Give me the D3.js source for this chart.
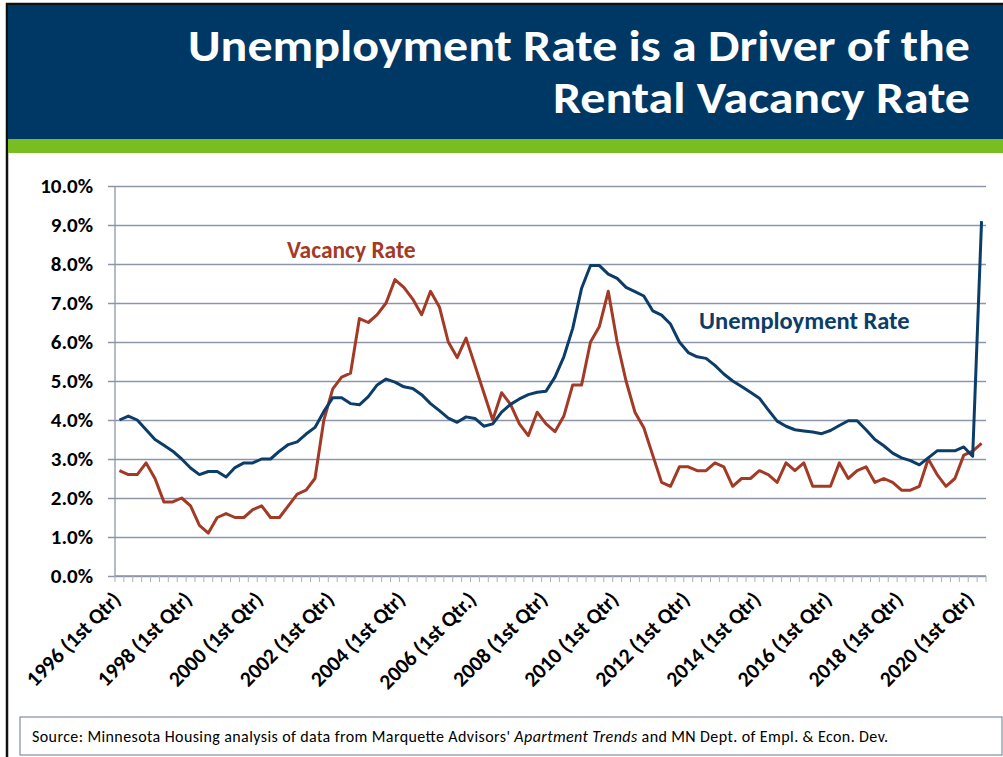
<!DOCTYPE html>
<html>
<head>
<meta charset="utf-8">
<script src="https://cdn.jsdelivr.net/npm/d3@7"></script>
<style>
  body { margin: 0; background: #fff; }
  text { font-family: Carlito, "Open Sans", sans-serif; }
</style>
</head>
<body>
<div id="chart"></div>
<script>
const width = 1003;
const height = 757;

// quarterly categories, 1996 Q1 .. 2020 Q2
const years = d3.range(1996, 2021);
const quarters = [];
years.forEach(y => [1, 2, 3, 4].forEach(q => quarters.push(y + " Q" + q)));
quarters.length = 98;

// tick labels shown every 8 quarters
const tickLabels = ["1996 (1st Qtr)", "1998 (1st Qtr)", "2000 (1st Qtr)", "2002 (1st Qtr)",
    "2004 (1st Qtr)", "2006 (1st Qtr.)", "2008 (1st Qtr)", "2010 (1st Qtr)", "2012 (1st Qtr)",
    "2014 (1st Qtr)", "2016 (1st Qtr)", "2018 (1st Qtr)", "2020 (1st Qtr)"];

// percent values
const unemployment = [4.0, 4.1, 4.0, 3.75, 3.5, 3.35, 3.2, 3.0, 2.77, 2.6,
    2.68, 2.68, 2.54, 2.78, 2.9, 2.9, 3.0, 3.0, 3.2, 3.37,
    3.44, 3.64, 3.81, 4.22, 4.57, 4.57, 4.42, 4.39, 4.6, 4.9,
    5.05, 4.97, 4.85, 4.81, 4.65, 4.42, 4.24, 4.05, 3.94, 4.08,
    4.04, 3.84, 3.9, 4.2, 4.4, 4.54, 4.65, 4.71, 4.74, 5.1,
    5.62, 6.35, 7.38, 7.96, 7.96, 7.74, 7.63, 7.4, 7.29, 7.18,
    6.8, 6.69, 6.46, 6.0, 5.73, 5.62, 5.58, 5.4, 5.18, 5.0,
    4.86, 4.71, 4.56, 4.26, 3.97, 3.84, 3.75, 3.72, 3.69, 3.65,
    3.73, 3.86, 3.98, 3.98, 3.75, 3.5, 3.34, 3.15, 3.03, 2.96,
    2.85, 3.03, 3.21, 3.21, 3.21, 3.31, 3.07, 9.1];

const vacancy = [2.7, 2.6, 2.6, 2.9, 2.5, 1.9, 1.9, 2.0, 1.8, 1.3,
    1.1, 1.5, 1.6, 1.5, 1.5, 1.7, 1.8, 1.5, 1.5, 1.8,
    2.1, 2.2, 2.5, 4.0, 4.8, 5.1, 5.2, 6.6, 6.5, 6.7,
    7.0, 7.6, 7.4, 7.1, 6.7, 7.3, 6.9, 6.0, 5.6, 6.1,
    5.4, 4.7, 4.0, 4.7, 4.4, 3.9, 3.6, 4.2, 3.9, 3.7,
    4.1, 4.9, 4.9, 6.0, 6.4, 7.3, 6.0, 5.0, 4.2, 3.8,
    3.1, 2.4, 2.3, 2.8, 2.8, 2.7, 2.7, 2.9, 2.8, 2.3,
    2.5, 2.5, 2.7, 2.6, 2.4, 2.9, 2.7, 2.9, 2.3, 2.3,
    2.3, 2.9, 2.5, 2.7, 2.8, 2.4, 2.5, 2.4, 2.2, 2.2,
    2.3, 3.0, 2.6, 2.3, 2.5, 3.1, 3.2, 3.4];

const navy = "#003865";
const blueLine = "#0c3d69";
const redLine = "#a33a26";
const gridColor = "#8c96a8";

const svg = d3.select("#chart")
    .append("svg")
    .attr("width", width)
    .attr("height", height);

// slide frame + header
svg.append("rect").attr("x", 7).attr("y", 4).attr("width", 1000).attr("height", 760)
    .attr("fill", "none").attr("stroke", "#111").attr("stroke-width", 2.5);
svg.append("rect").attr("x", 8).attr("y", 5).attr("width", 995).attr("height", 134).attr("fill", navy);
svg.append("rect").attr("x", 8).attr("y", 139).attr("width", 995).attr("height", 14).attr("fill", "#78be20");

svg.append("text").attr("x", 970).attr("y", 61)
    .attr("text-anchor", "end").attr("fill", "#fff")
    .attr("font-weight", "bold").attr("font-size", 45)
    .attr("textLength", 782).attr("lengthAdjust", "spacingAndGlyphs")
    .text("Unemployment Rate is a Driver of the");
svg.append("text").attr("x", 970).attr("y", 113)
    .attr("text-anchor", "end").attr("fill", "#fff")
    .attr("font-weight", "bold").attr("font-size", 45)
    .attr("textLength", 417).attr("lengthAdjust", "spacingAndGlyphs")
    .text("Rental Vacancy Rate");

// scales
const x = d3.scaleBand().domain(quarters).range([115, 986]).padding(0);
const cx = q => x(q) + x.bandwidth() / 2;
const y = d3.scaleLinear().domain([0, 10]).range([576, 186]);

// gridlines + y labels
const yAxis = svg.append("g")
    .attr("transform", "translate(108,0)")
    .call(d3.axisLeft(y).tickValues(d3.range(0, 11)).tickSize(-(986 - 108)).tickPadding(15)
        .tickFormat(d => d.toFixed(1) + "%"));
yAxis.select(".domain").remove();
yAxis.selectAll("line").attr("stroke", gridColor).attr("stroke-width", 1.3);
yAxis.selectAll("text").attr("font-size", 21).attr("font-weight", "bold")
    .attr("fill", "#000").attr("font-family", "Carlito, 'Open Sans', sans-serif");

// axis lines
svg.append("line").attr("x1", 115).attr("x2", 115).attr("y1", 186).attr("y2", 576)
    .attr("stroke", gridColor).attr("stroke-width", 1.3);
svg.append("line").attr("x1", 115).attr("x2", 986).attr("y1", 576).attr("y2", 576)
    .attr("stroke", gridColor).attr("stroke-width", 1.3);

// category tick marks at band edges
const edges = quarters.map(q => x(q)).concat([x.range()[1]]);
svg.append("g").selectAll("line").data(edges).join("line")
    .attr("x1", d => d).attr("x2", d => d).attr("y1", 576).attr("y2", 582)
    .attr("stroke", "#a8b0be").attr("stroke-width", 1);

// x labels
svg.append("g").selectAll("text").data(tickLabels).join("text")
    .attr("transform", (d, i) => `translate(${cx(quarters[i * 8]) - 8},${590}) rotate(-45)`)
    .attr("text-anchor", "end")
    .attr("dy", "0.7em")
    .attr("font-size", 21.5).attr("font-weight", "bold").attr("fill", "#000")
    .text(d => d);

// lines
const line = d3.line().x((d, i) => cx(quarters[i])).y(d => y(d));

svg.append("path").datum(vacancy)
    .attr("d", line).attr("fill", "none")
    .attr("stroke", redLine).attr("stroke-width", 3).attr("stroke-linejoin", "round");
svg.append("path").datum(unemployment)
    .attr("d", line).attr("fill", "none")
    .attr("stroke", blueLine).attr("stroke-width", 3).attr("stroke-linejoin", "round");

// series labels
svg.append("text").attr("x", 287).attr("y", 258)
    .attr("font-size", 23.5).attr("font-weight", "bold").attr("fill", redLine)
    .text("Vacancy Rate");
svg.append("text").attr("x", 699).attr("y", 329)
    .attr("font-size", 24.5).attr("font-weight", "bold").attr("fill", blueLine)
    .text("Unemployment Rate");

// source box
svg.append("rect").attr("x", 20).attr("y", 717).attr("width", 982).attr("height", 38)
    .attr("fill", "#fff").attr("stroke", "#7f8ea4").attr("stroke-width", 1.2);
const src = svg.append("text").attr("x", 32).attr("y", 742)
    .attr("font-size", 16).attr("fill", "#000")
    .attr("textLength", 856).attr("lengthAdjust", "spacing");
src.append("tspan").text("Source:  Minnesota Housing analysis of data from Marquette Advisors' ");
src.append("tspan").attr("font-style", "italic").text("Apartment Trends");
src.append("tspan").text(" and MN Dept. of Empl. & Econ. Dev.");
</script>
</body>
</html>
